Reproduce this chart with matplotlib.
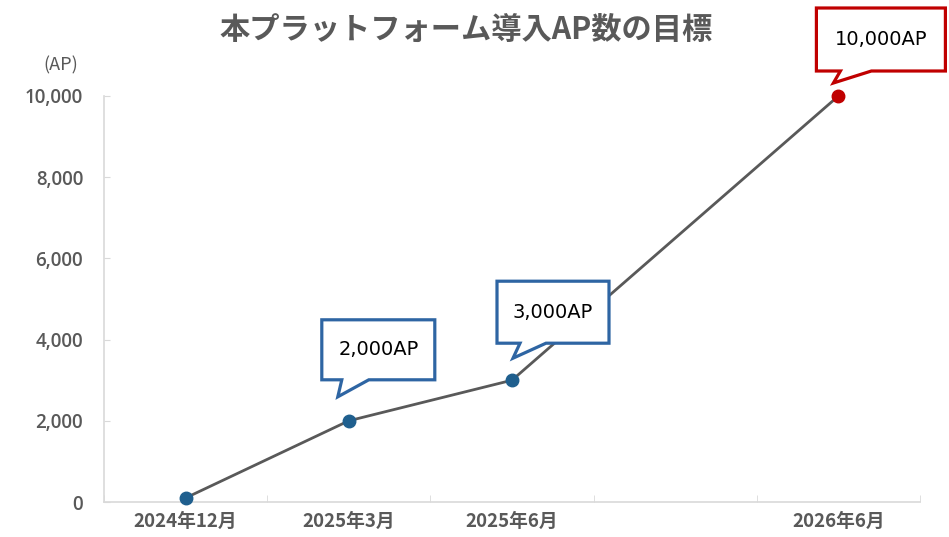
import numpy as np
import matplotlib
matplotlib.use("Agg")
import matplotlib.pyplot as plt
import matplotlib.transforms as mtransforms
from matplotlib.patches import Polygon

plt.rcParams['font.family'] = ['Noto Sans CJK JP', 'DejaVu Sans']

# ---- data ----
title = "本プラットフォーム導入AP数の目標"
unit_label = "(AP)"
categories = ["2024年12月", "2025年3月", "2025年6月", "", "2026年6月"]
values = [100, 2000, 3000, np.nan, 10000]
callout_texts = ["", "2,000AP", "3,000AP", "", "10,000AP"]
yticks = [0, 2000, 4000, 6000, 8000, 10000]
ytick_labels = ["0", "2,000", "4,000", "6,000", "8,000", "10,000"]

GRAY = "#595959"
BLUE = "#1F5F8E"
BLUE_EDGE = "#2E65A3"
RED = "#C00000"
SPINE = "#D9D9D9"

fig = plt.figure(figsize=(9.49, 5.37), dpi=100)
ax = fig.add_axes([104/949, 1-502/537, (920-104)/949, (502-96)/537])

x = np.arange(len(categories))
vals = np.array(values, dtype=float)
mask = ~np.isnan(vals)
ax.plot(x[mask], vals[mask], color=GRAY, lw=2, zorder=3, clip_on=False)
marker_colors = [BLUE, BLUE, BLUE, BLUE, RED]
for xi, v, c in zip(x, vals, marker_colors):
    if not np.isnan(v):
        ax.plot([xi], [v], 'o', ms=9, color=c, zorder=4, clip_on=False)

ax.set_xlim(-0.5, len(categories) - 0.5)
ax.set_ylim(0, 10000)
ax.set_yticks(yticks)
ax.set_yticklabels(ytick_labels)
ax.set_xticks(x)
ax.set_xticklabels(categories)
ax.set_xticks(np.arange(-0.5, len(categories), 1.0), minor=True)

for s in ["top", "right"]:
    ax.spines[s].set_visible(False)
for s in ["left", "bottom"]:
    ax.spines[s].set_color(SPINE)
    ax.spines[s].set_linewidth(1.2)

ax.tick_params(axis='y', direction='in', length=4, color=SPINE, pad=15,
               labelcolor=GRAY)
ax.tick_params(axis='x', which='major', length=0, pad=7, labelsize=13.5,
               labelcolor=GRAY)
ax.tick_params(axis='x', which='minor', direction='in', length=5, color=SPINE)
for lab in ax.get_yticklabels():
    lab.set_fontfamily(['Open Sans', 'DejaVu Sans'])
    lab.set_fontsize(13.5)
    lab.set_fontweight('semibold')
for lab in ax.get_xticklabels():
    lab.set_fontweight('bold')

fig.text(466/949, 1-30/537, title, ha='center', va='center', fontsize=21.8,
         fontweight='bold', color=GRAY)
fig.text(61/949, 1-65/537, unit_label, ha='center', va='center', fontsize=13,
         color=GRAY)

# ---- callouts (pixel offsets relative to the data point) ----
layout = {
    1: dict(box=(-27, 86, 41, 101), base=(-7, 20), tip=(-11, 24), ec=BLUE_EDGE),
    2: dict(box=(-15, 97, 37, 99), base=(8, 34), tip=(1, 22), ec=BLUE_EDGE),
    4: dict(box=(-22, 107, 25, 88), base=(2, 33), tip=(-5, 13), ec=RED),
}
for i, spec in layout.items():
    x0, x1, y0, y1 = spec['box']
    b0, b1 = spec['base']
    tx, ty = spec['tip']
    verts = [(x0, y0), (b0, y0), (tx, ty), (b1, y0), (x1, y0), (x1, y1), (x0, y1)]
    trans = mtransforms.Affine2D() + mtransforms.ScaledTranslation(x[i], vals[i], ax.transData)
    poly = Polygon(verts, closed=True, facecolor='white', edgecolor=spec['ec'],
                   lw=2.3, joinstyle='miter', transform=trans, clip_on=False, zorder=5)
    ax.add_patch(poly)
    ttrans = mtransforms.Affine2D().translate((x0 + x1) / 2, (y0 + y1) / 2) + \
        mtransforms.ScaledTranslation(x[i], vals[i], ax.transData)
    ax.text(0, 0, callout_texts[i], transform=ttrans, ha='center', va='center',
            fontsize=14, family=['DejaVu Sans'], color='black', zorder=6,
            clip_on=False)

fig.savefig("out.png", dpi=100)
